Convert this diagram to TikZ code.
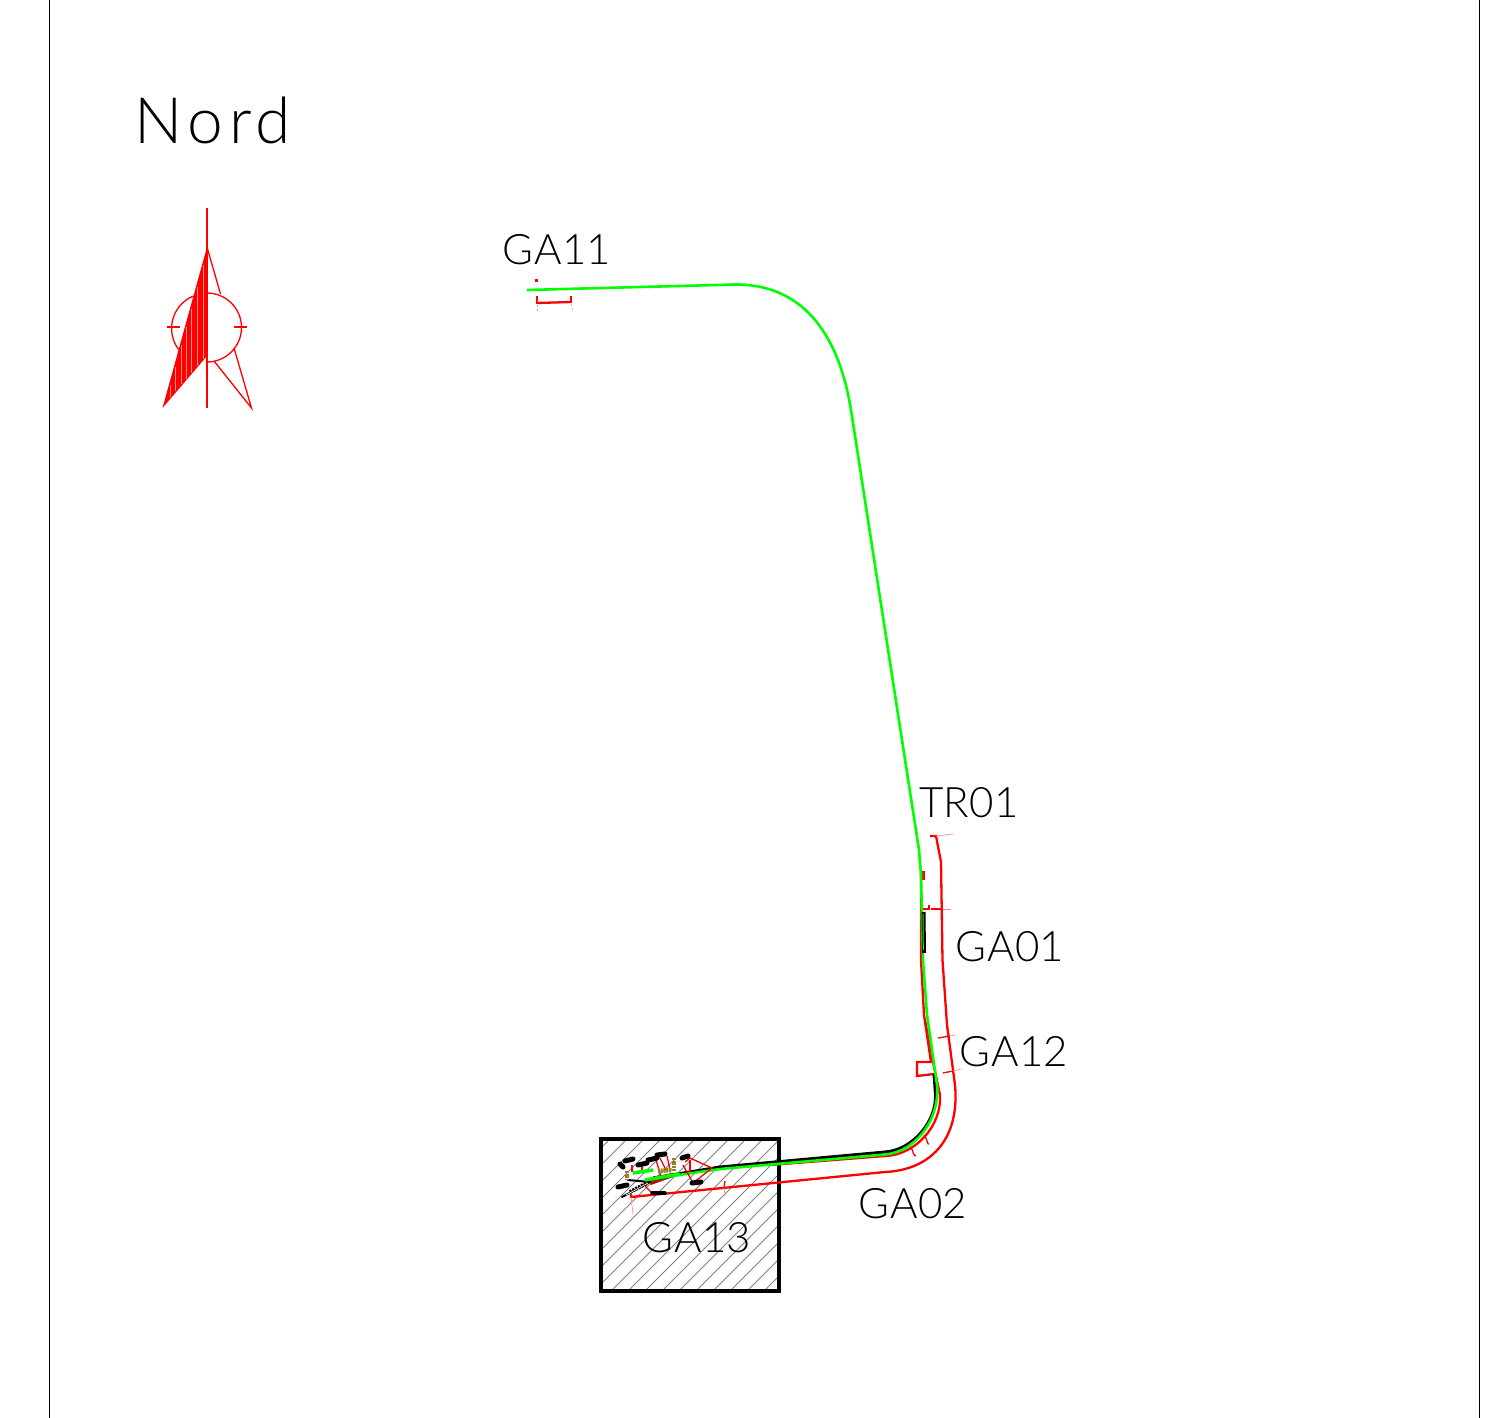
\documentclass[tikz,border=0pt]{standalone}
\usepackage{fontspec}
\setmainfont{Lato}
\newfontfamily\cadfont[UprightFont=* Light,LetterSpace=1]{Lato}
\newfontfamily\cadwide[UprightFont=* Light,LetterSpace=9]{Lato}
\usetikzlibrary{calc}
\definecolor{cadred}{RGB}{255,0,0}
\definecolor{cadgreen}{RGB}{0,255,0}
\definecolor{cadolive}{RGB}{150,130,30}
\definecolor{caddark}{RGB}{170,20,20}
\tikzset{
  lbl/.style={font=\cadfont\fontsize{42}{42}\selectfont,text=black,inner sep=0pt,anchor=center},
  redthin/.style={draw=cadred,line width=1.3pt},
  redthick/.style={draw=cadred,line width=2.3pt},
  redfaint/.style={draw=cadred!45,line width=.7pt},
  greenline/.style={draw=cadgreen,line width=2.6pt},
  blackline/.style={draw=black,line width=3pt},
  blob/.style={draw=black,line width=5pt,line cap=round},
  olive/.style={draw=cadolive,line width=4.5pt,dash pattern=on 2pt off .7pt},
  hatch/.style={draw=black!50,line width=.8pt},
}
\begin{document}
\begin{tikzpicture}[x=1pt,y=-1pt]
\useasboundingbox (0,0) rectangle (1500,1418);
\fill[white] (0,0) rectangle (1500,1418);
% sheet borders
\draw[black,line width=1pt] (49.5,0) -- (49.5,1418);
\draw[black,line width=1pt] (1479,0) -- (1479,1418);
% north arrow
\draw[redthin] (207,208) -- (207,408);
\draw[redthin] (207,247) -- (220.5,294);
\draw[redthin] (234,348) -- (251.5,408) -- (214,361);
\draw[redthin] (193.5,296) arc[start angle=-112,end angle=-247,radius=35] ;
\draw[redthin] (207,293) arc[start angle=-90,end angle=90,radius=34.5];
\draw[redthin] (167,327) -- (180,327);
\draw[redthin] (234,327) -- (247,327);
\fill[cadred] (207,247) -- (162.5,408) -- (207,356) -- cycle;
\foreach \x in {170,175,181,186,191,197,203}{\draw[white,opacity=.55,line width=.35pt] (\x,{408-(\x-162.5)*161/44.5+4}) -- (\x,{408-(\x-162.5)*52/44.5-2});}
% hatched block
\begin{scope}
\clip (601,1139) rectangle (779,1291);
\foreach \k in {0,17,...,340}{\draw[hatch] ({601+\k-160},1291) -- ({601+\k},1131);}
\end{scope}
\draw[black,line width=3.2pt] (601,1139) rectangle (779,1291);
% red outer line
\draw[redthick] (930,836) -- (936,836) -- (941,862) -- (942.5,960) -- (947,1025) -- (955,1085)
  .. controls (960,1140) and (930,1170) .. (885,1172) -- (631,1197) -- (631,1194);
\draw[redfaint] (936,836) -- (953,834);
\draw[redfaint] (631,1197) -- (633,1214);
\draw[redthin] (724,1187) -- (725,1181);
\draw[redfaint] (724,1187) -- (725,1196);
% red inner line
\draw[redthick] (921,872) -- (921,960) -- (924,1015) -- (931,1062) -- (917,1062) -- (917,1076) -- (934,1074);
\draw[redthick] (921,872) -- (923.5,872) -- (923.5,880);
\draw[redthick] (925,1020) -- (933,1062) -- (940,1095) .. controls (942,1125) and (916,1155) .. (885,1156) -- (770,1165);
% red ticks
\draw[redthin] (921,909) -- (929,909) -- (929,905);
\draw[redthin] (931,909) -- (943,909);
\draw[redfaint] (943,909) -- (951,909);
\draw[redthin] (938,1038) -- (950,1036);
\draw[redfaint] (950,1036) -- (956,1035);
\draw[redthin] (943,1073) -- (953,1071);
\draw[redfaint] (953,1071) -- (961,1069);
\draw[redthin] (924,1135) .. controls (928,1140) and (927,1145) .. (929,1144);
\draw[redthin] (910,1147) .. controls (914,1150) and (912,1155) .. (916,1156);
% black main line
\draw[blackline] (934,1074) -- (935.5,1094) .. controls (937,1121) and (913,1150) .. (885,1152) -- (720,1167) -- (653,1178);
% green route
\draw[greenline] (527,290) -- (735,284.5) .. controls (800,284) and (838,330) .. (851,410)
  -- (919,850) -- (921,875) -- (923,960) -- (927,1015) -- (937,1085)
  .. controls (940,1120) and (915,1152) .. (885,1154.5) -- (720,1169) -- (645,1180);
\draw[draw=black,line width=4pt] (923.5,912) -- (924,953);
\draw[draw=cadgreen,line width=1pt] (923,914) -- (923.3,950);
% GA11 tick
\draw[redthick] (537,303) -- (571,302);
\draw[redthin] (537,296) -- (537,304);
\draw[redthin] (571,296) -- (571,303);
\draw[redfaint,dash pattern=on 2pt off 2pt] (537,305) -- (537,313);
\draw[redfaint,dash pattern=on 2pt off 2pt] (571,304) -- (573,312);
\fill[cadred] (535,279) rectangle (537.5,281.5);
% cluster detail
\draw[redthin] (685,1162) -- (690,1158) -- (712,1168) -- (693,1183) -- (683,1165);
\draw[redthin] (656,1160) -- (662,1180);
\draw[redthin] (632,1165) -- (632,1172);
\draw[redthin] (660,1158) -- (667,1172);
\draw[redthin] (645,1186) -- (653,1194);
\draw[redthin] (690,1160) -- (690,1172);
\draw[redthin] (667,1156) -- (670,1170);
\draw[redthin] (642,1165) -- (642,1173);
\draw[draw=caddark,line width=4.5pt] (650,1183) -- (672,1175);
\draw[blob] (625,1161) -- (633,1159);
\draw[blob] (620,1164) -- (623,1167);
\draw[blob] (638,1165) -- (647,1163);
\draw[blob] (648,1160) -- (657,1158);
\draw[blob] (657,1155) -- (665,1154);
\draw[blob] (682,1158) -- (688,1156);
\draw[blob] (618,1187) -- (627,1185);
\draw[blob] (692,1183) -- (701,1182);
\draw[blob,line width=3.5pt] (652,1193) -- (665,1193);
\draw[blob,line width=2pt] (628,1180) -- (650,1182);
\draw[blob,line width=2pt] (622,1197) -- (650,1182);
\draw[blob,line width=4pt,line cap=butt,dash pattern=on 2pt off 1.2pt] (630,1192) -- (647,1183);
\draw[draw=white,line width=.7pt] (626,1195) -- (648,1183);
\draw[greenline,line width=3.5pt] (633,1173) -- (653,1170);
\draw[greenline,line width=3.5pt] (645,1180) -- (680,1174);
\draw[olive] (627,1171) -- (627,1180);
\draw[olive] (674,1158) -- (674,1171);
\draw[olive] (658,1171) -- (672,1170);
% labels
\node[lbl,font=\cadwide\fontsize{64}{64}\selectfont] (nord) at (213,120) {Nord};
\node[lbl] (ga11) at (557,250) {GA11};
\node[lbl] (tr01) at (969,803) {TR01};
\node[lbl] (ga01) at (1010,947) {GA01};
\node[lbl] (ga12) at (1014,1052) {GA12};
\node[lbl] (ga02) at (913,1204) {GA02};
\node[lbl] (ga13) at (697,1238) {GA13};
\end{tikzpicture}
\end{document}
